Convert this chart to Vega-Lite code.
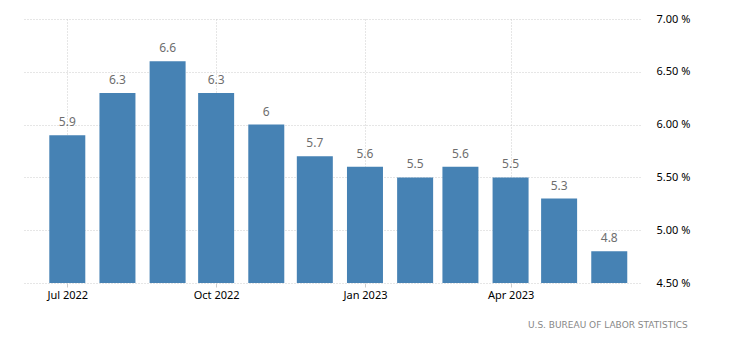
{
  "$schema": "https://vega.github.io/schema/vega-lite/v6.json",
  "width": 618,
  "height": 264,
  "padding": {"left": 22, "top": 13, "right": 10, "bottom": 10},
  "background": "white",
  "config": {"view": {"stroke": null}, "font": "Noto Sans"},
  "title": {
    "text": "U.S.  BUREAU  OF  LABOR  STATISTICS",
    "orient": "bottom",
    "anchor": "end",
    "frame": "bounds",
    "fontSize": 9,
    "fontWeight": "normal",
    "font": "DejaVu Sans",
    "color": "#888888",
    "offset": 21,
    "dx": -2
  },
  "data": {
    "values": [
      {"date": "2022-07-01", "value": 5.9},
      {"date": "2022-08-01", "value": 6.3},
      {"date": "2022-09-01", "value": 6.6},
      {"date": "2022-10-01", "value": 6.3},
      {"date": "2022-11-01", "value": 6.0},
      {"date": "2022-12-01", "value": 5.7},
      {"date": "2023-01-01", "value": 5.6},
      {"date": "2023-02-01", "value": 5.5},
      {"date": "2023-03-01", "value": 5.6},
      {"date": "2023-04-01", "value": 5.5},
      {"date": "2023-05-01", "value": 5.3},
      {"date": "2023-06-01", "value": 4.8}
    ]
  },
  "encoding": {
    "x": {
      "field": "date",
      "type": "temporal",
      "scale": {
        "type": "utc",
        "padding": 0,
        "domain": [
          {"year": 2022, "month": 6, "date": 3, "utc": true},
          {"year": 2023, "month": 6, "date": 20, "utc": true}
        ]
      },
      "axis": {
        "title": null,
        "values": [
          {"year": 2022, "month": 7, "date": 1, "utc": true},
          {"year": 2022, "month": 10, "date": 1, "utc": true},
          {"year": 2023, "month": 1, "date": 1, "utc": true},
          {"year": 2023, "month": 4, "date": 1, "utc": true}
        ],
        "labelExpr": "utcFormat(datum.value, '%b %Y')",
        "labelFontSize": 11,
        "labelColor": "#000000",
        "labelPadding": 2,
        "domain": false,
        "tickColor": "#cccccc",
        "tickSize": 4,
        "grid": true,
        "gridColor": "#cccccc",
        "gridDash": [1, 2],
        "gridWidth": 1
      }
    },
    "y": {
      "field": "value",
      "type": "quantitative",
      "scale": {"domain": [4.5, 7], "zero": false, "nice": false},
      "axis": {
        "orient": "right",
        "title": null,
        "values": [4.5, 5, 5.5, 6, 6.5, 7],
        "labelExpr": "format(datum.value, '.2f') + ' %'",
        "labelFontSize": 11,
        "labelColor": "#000000",
        "labelPadding": 16,
        "domain": false,
        "ticks": false,
        "grid": true,
        "gridColor": "#cccccc",
        "gridDash": [1, 2],
        "gridWidth": 1
      }
    }
  },
  "layer": [
    {
      "mark": {"type": "bar", "color": "#4682b4", "width": 36, "clip": true}
    },
    {
      "mark": {"type": "text", "dy": -13, "fontSize": 12, "color": "#6e6e6e"},
      "encoding": {"text": {"field": "value", "type": "quantitative"}}
    }
  ]
}
